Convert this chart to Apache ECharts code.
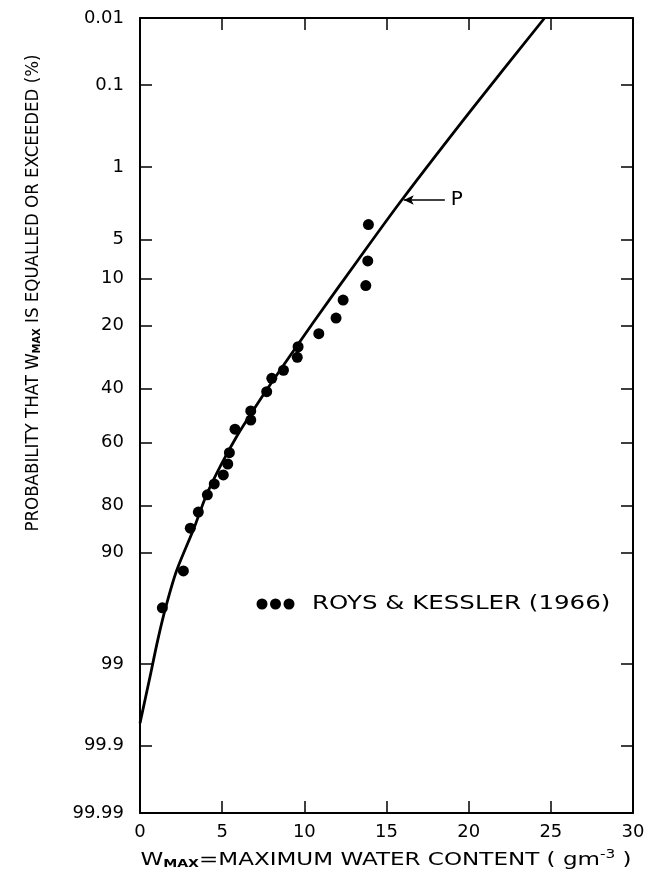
<!DOCTYPE html>
<html>
<head>
<meta charset="utf-8">
<script src="https://cdn.jsdelivr.net/npm/echarts@6/dist/echarts.min.js"></script>
<style>
  html, body { margin: 0; padding: 0; background: #fff; }
  #chart { width: 668px; height: 885px; }
</style>
</head>
<body>
<div id="chart"></div>
<script>
// Observed maximum water content (g m^-3) and exceedance probability (%)
const obsWater = [1.36, 2.64, 3.06, 3.55, 4.10, 4.52, 5.07, 5.34, 5.44, 5.78, 6.74, 6.74,
                  7.71, 8.02, 8.73, 9.57, 9.62, 10.88, 11.93, 12.36, 13.74, 13.86, 13.90];
const obsExceed = [96.4, 92.7, 85.4, 81.7, 77.1, 73.9, 71.1, 67.5, 63.6, 55.1, 51.7, 48.3,
                   41.2, 36.4, 33.6, 29.3, 26.0, 22.2, 18.1, 14.0, 11.2, 7.4, 3.7];

// Fitted distribution curve P
const curveWater = [0, 0.57, 1.08, 1.56, 2.22, 3.29, 4.02, 4.93, 5.90, 6.94, 8.03, 9.25,
                    10.65, 13.27, 15.93, 20.26, 24.62];
const curveExceed = [99.80, 99.33, 98.22, 96.39, 92.72, 85.38, 77.43, 67.83, 57.61, 47.58, 37.71, 27.93,
                     18.58, 7.28, 2.19, 0.20, 0.01];

// Probability-paper ticks (%)
const probTicks = [0.01, 0.1, 1, 5, 10, 20, 40, 60, 80, 90, 99, 99.9, 99.99];
const probTickLabels = ['0.01', '0.1', '1', '5', '10', '20', '40', '60', '80', '90', '99', '99.9', '99.99'];

const xTicks = [0, 5, 10, 15, 20, 25, 30];

const seriesName = 'ROYS & KESSLER (1966)';

// Inverse of the standard normal CDF (Acklam's rational approximation)
function normInv(p) {
  const a = [-3.969683028665376e+01, 2.209460984245205e+02, -2.759285104469687e+02,
             1.383577518672690e+02, -3.066479806614716e+01, 2.506628277459239e+00];
  const b = [-5.447609879822406e+01, 1.615858368580409e+02, -1.556989798598866e+02,
             6.680131188771972e+01, -1.328068155288572e+01];
  const c = [-7.784894002430293e-03, -3.223964580411365e-01, -2.400758277161838e+00,
             -2.549732539343734e+00, 4.374664141464968e+00, 2.938163982698783e+00];
  const d = [7.784695709041462e-03, 3.224671290700398e-01, 2.445134137142996e+00,
             3.754408661907416e+00];
  const pl = 0.02425, ph = 1 - pl;
  let q, r;
  if (p < pl) {
    q = Math.sqrt(-2 * Math.log(p));
    return (((((c[0]*q+c[1])*q+c[2])*q+c[3])*q+c[4])*q+c[5]) /
           ((((d[0]*q+d[1])*q+d[2])*q+d[3])*q+1);
  }
  if (p <= ph) {
    q = p - 0.5; r = q * q;
    return (((((a[0]*r+a[1])*r+a[2])*r+a[3])*r+a[4])*r+a[5])*q /
           (((((b[0]*r+b[1])*r+b[2])*r+b[3])*r+b[4])*r+1);
  }
  q = Math.sqrt(-2 * Math.log(1 - p));
  return -(((((c[0]*q+c[1])*q+c[2])*q+c[3])*q+c[4])*q+c[5]) /
          ((((d[0]*q+d[1])*q+d[2])*q+d[3])*q+1);
}

// Exceedance percentage -> normal-probability axis coordinate (small % at top)
const probY = pct => normInv(1 - pct / 100);

const tickY = probTicks.map(probY);
const yMax = tickY[0];
const yMin = tickY[tickY.length - 1];

function probLabel(v) {
  let best = 0, bestD = Infinity;
  tickY.forEach((t, i) => { const dd = Math.abs(t - v); if (dd < bestD) { bestD = dd; best = i; } });
  return probTickLabels[best];
}

const FONT = '"DejaVu Sans", "Liberation Sans", sans-serif';
const TITLE_FONT = '"Liberation Sans Narrow", "DejaVu Sans Condensed", "Liberation Sans", sans-serif';
const frameLine = { show: true, onZero: false, lineStyle: { color: '#000', width: 2 } };
const tickStyle = { color: '#000', width: 1.5 };

const scatterData = obsWater.map((w, i) => [w, probY(obsExceed[i])]);
const curveData = curveWater.map((w, i) => [w, probY(curveExceed[i])]);

const arrowY = probY(2.19);

const chart = echarts.init(document.getElementById('chart'), null, { renderer: 'canvas' });

chart.setOption({
  animation: false,
  backgroundColor: '#fff',
  grid: { left: 140, right: 35, top: 18, bottom: 72 },
  xAxis: [
    {
      type: 'value', position: 'bottom', min: 0, max: 30, interval: 5,
      axisLine: frameLine,
      axisTick: { show: true, inside: true, length: 12, lineStyle: tickStyle },
      axisLabel: { show: true, margin: 10, fontSize: 18, color: '#000', fontFamily: FONT,
                   customValues: xTicks },
      splitLine: { show: false }
    },
    {
      type: 'value', position: 'top', min: 0, max: 30, interval: 5,
      axisLine: frameLine,
      axisTick: { show: true, inside: true, length: 12, lineStyle: tickStyle },
      axisLabel: { show: false },
      splitLine: { show: false }
    }
  ],
  yAxis: [
    {
      type: 'value', position: 'left', min: yMin, max: yMax,
      axisLine: frameLine,
      axisTick: { show: true, inside: true, length: 12, lineStyle: tickStyle, customValues: tickY },
      axisLabel: { show: true, margin: 16, fontSize: 18, color: '#000', fontFamily: FONT,
                   customValues: tickY, formatter: probLabel },
      splitLine: { show: false }
    },
    {
      type: 'value', position: 'right', min: yMin, max: yMax,
      axisLine: frameLine,
      axisTick: { show: true, inside: true, length: 12, lineStyle: tickStyle, customValues: tickY },
      axisLabel: { show: false },
      splitLine: { show: false }
    }
  ],
  graphic: [
    // vertical axis title
    {
      type: 'text', x: 33, y: 293, rotation: Math.PI / 2,
      style: {
        text: '{t|PROBABILITY THAT W}{s|MAX}{t| IS EQUALLED OR EXCEEDED (%)}',
        align: 'center', verticalAlign: 'middle',
        rich: {
          t: { fontSize: 18.5, fill: '#000', fontFamily: TITLE_FONT },
          s: { fontSize: 11, fontWeight: 'bold', fill: '#000', fontFamily: TITLE_FONT, padding: [9, 0, 0, 0] }
        }
      }
    },
    // horizontal axis title (wide lettering)
    {
      type: 'text', x: 386, y: 860, scaleX: 1.28,
      style: {
        text: '{w|W}{s|MAX}{t|=MAXIMUM WATER CONTENT ( gm}{p|-3}{t| )}',
        align: 'center', verticalAlign: 'middle',
        rich: {
          w: { fontSize: 18, fill: '#000', fontFamily: FONT },
          s: { fontSize: 11, fontWeight: 'bold', fill: '#000', fontFamily: FONT, padding: [9, 0, 0, 0] },
          t: { fontSize: 18, fill: '#000', fontFamily: FONT },
          p: { fontSize: 12, fill: '#000', fontFamily: FONT, padding: [0, 0, 10, 0] }
        }
      }
    },
    // legend key: three dots and source label
    {
      type: 'group', x: 262, y: 604,
      children: [
        { type: 'circle', shape: { cx: 0, cy: 0, r: 5.5 }, style: { fill: '#000' } },
        { type: 'circle', shape: { cx: 13.5, cy: 0, r: 5.5 }, style: { fill: '#000' } },
        { type: 'circle', shape: { cx: 27, cy: 0, r: 5.5 }, style: { fill: '#000' } },
        {
          type: 'text', x: 50, y: 0, scaleX: 1.29,
          style: { text: seriesName, fontSize: 19, fill: '#000', fontFamily: FONT,
                   align: 'left', verticalAlign: 'middle' }
        }
      ]
    }
  ],
  series: [
    {
      name: 'P', type: 'line', data: curveData, smooth: 0.3,
      showSymbol: false, silent: true, clip: true,
      lineStyle: { color: '#000', width: 2.8 },
      markLine: {
        silent: true, symbol: ['none', 'arrow'], symbolSize: [7, 10],
        lineStyle: { color: '#000', width: 1.5, type: 'solid' },
        label: { show: true, position: 'start', formatter: 'P', fontSize: 20, color: '#000',
                 fontFamily: FONT, distance: 6 },
        data: [[{ coord: [18.55, arrowY] }, { coord: [16.05, arrowY] }]]
      }
    },
    {
      name: seriesName, type: 'scatter', data: scatterData,
      symbol: 'circle', symbolSize: 11,
      itemStyle: { color: '#000', opacity: 1 }
    }
  ]
});
</script>
</body>
</html>
